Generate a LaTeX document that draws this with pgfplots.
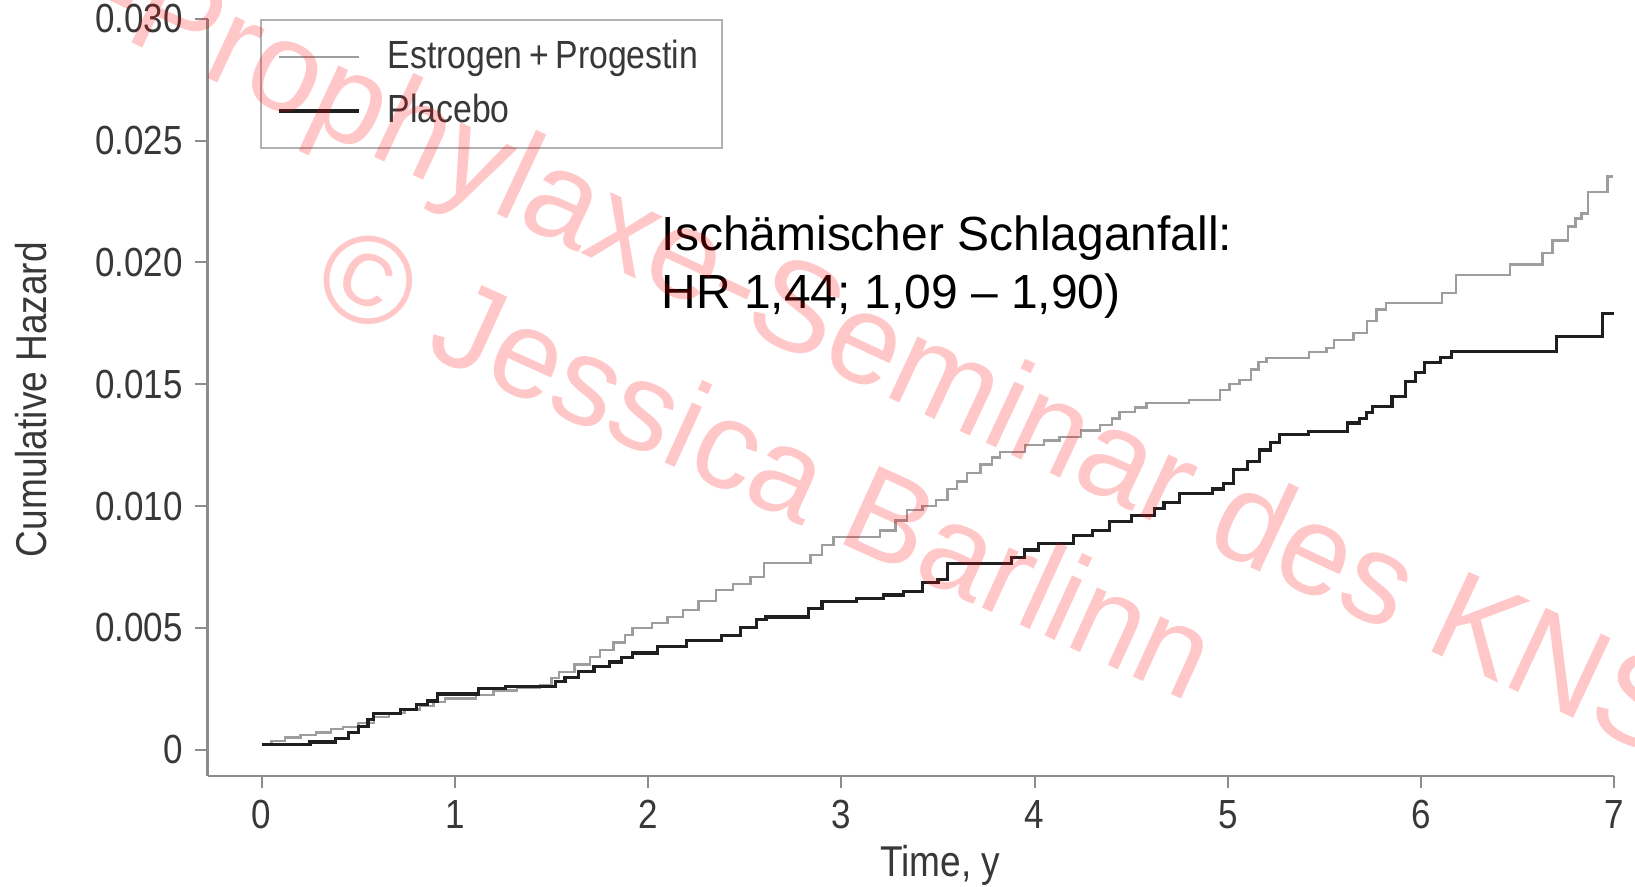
\documentclass[border=0pt]{standalone}
\usepackage{fontspec}
\setmainfont{Liberation Sans}
\newfontfamily\condfont{Liberation Sans}[FakeStretch=0.86]
\usepackage{pgfplots}
\pgfplotsset{compat=1.18}
\definecolor{epgray}{gray}{0.62}
\definecolor{plblack}{gray}{0.12}
\definecolor{axgray}{gray}{0.55}
\definecolor{txtgray}{gray}{0.22}

\pgfplotstableread{
t y
0 0.00020
0.25 0.00032
0.38 0.00045
0.45 0.00070
0.50 0.00095
0.55 0.00125
0.58 0.00150
0.72 0.00165
0.80 0.00184
0.86 0.00200
0.91 0.00229
1.12 0.00250
1.26 0.00261
1.52 0.00280
1.57 0.00295
1.64 0.00320
1.72 0.00340
1.80 0.00360
1.86 0.00380
1.92 0.00397
2.05 0.00424
2.20 0.00450
2.38 0.00470
2.48 0.00500
2.56 0.00533
2.61 0.00545
2.83 0.00580
2.90 0.00608
3.08 0.00620
3.22 0.00635
3.32 0.00650
3.42 0.00685
3.50 0.00700
3.55 0.00766
3.88 0.00790
3.95 0.00820
4.02 0.00848
4.20 0.00880
4.30 0.00900
4.39 0.00935
4.50 0.00963
4.62 0.00990
4.67 0.01013
4.75 0.01053
4.92 0.01070
4.98 0.01094
5.03 0.01149
5.10 0.01182
5.165 0.01230
5.22 0.01260
5.27 0.01293
5.42 0.01306
5.62 0.01341
5.68 0.01360
5.72 0.01383
5.75 0.01408
5.85 0.01449
5.92 0.01510
5.97 0.01550
6.02 0.01588
6.10 0.01610
6.16 0.01633
6.70 0.01695
6.94 0.01789
7.00 0.01789
}\placebo

\pgfplotstableread{
t y
0 0.00020
0.05 0.00035
0.12 0.00050
0.20 0.00060
0.28 0.00070
0.36 0.00085
0.42 0.00094
0.50 0.00110
0.58 0.00134
0.66 0.00150
0.74 0.00165
0.82 0.00180
0.89 0.00197
0.95 0.00210
1.11 0.00225
1.20 0.00244
1.32 0.00255
1.44 0.00265
1.50 0.00295
1.54 0.00320
1.62 0.00350
1.70 0.00380
1.75 0.00409
1.82 0.00440
1.88 0.00470
1.92 0.00500
2.02 0.00520
2.10 0.00545
2.18 0.00574
2.26 0.00610
2.35 0.00655
2.44 0.00680
2.53 0.00710
2.60 0.00766
2.84 0.00800
2.90 0.00840
2.96 0.00873
3.20 0.00900
3.28 0.00940
3.34 0.00985
3.42 0.01000
3.49 0.01025
3.55 0.01070
3.60 0.01100
3.65 0.01136
3.72 0.01170
3.78 0.01200
3.82 0.01222
3.95 0.01250
4.05 0.01270
4.13 0.01284
4.24 0.01310
4.34 0.01333
4.40 0.01360
4.44 0.01387
4.52 0.01405
4.58 0.01423
4.80 0.01436
4.96 0.01477
5.01 0.01500
5.06 0.01518
5.12 0.01560
5.16 0.01592
5.20 0.01608
5.42 0.01633
5.51 0.01648
5.55 0.01682
5.65 0.01710
5.72 0.01760
5.77 0.01806
5.82 0.01834
6.11 0.01875
6.18 0.01949
6.46 0.01991
6.63 0.02038
6.68 0.02090
6.76 0.02147
6.80 0.02180
6.83 0.02200
6.865 0.02290
6.965 0.02352
6.995 0.02352
}\estprog

\begin{document}
\begin{tikzpicture}
\begin{axis}[
  scale only axis,
  width=404.7pt, height=217.8pt,
  xmin=-0.2806, xmax=7, ymin=-0.00107, ymax=0.030,
  axis lines=left,
  axis line style={-, draw=axgray, line width=0.7pt},
  xtick={0,1,2,3,4,5,6,7},
  xticklabels={0,1,2,3,4,5,6,7},
  ytick={0,0.005,0.01,0.015,0.02,0.025,0.03},
  yticklabels={0,0.005,0.010,0.015,0.020,0.025,0.030},
  tick align=outside,
  major tick length=3.6pt,
  tick style={draw=axgray, line width=0.6pt},
  ticklabel style={font=\condfont\fontsize{11.7}{13}\selectfont, text=txtgray},
  xlabel={Time, y},
  ylabel={Cumulative Hazard},
  label style={font=\condfont\fontsize{12.4}{14}\selectfont, text=txtgray},
  xlabel style={at={(axis description cs:0.521,-0.1185)}, anchor=center},
  ylabel style={at={(axis description cs:-0.1253,0.497)}, anchor=center},
  clip=false,
  legend cell align=left,
  legend image code/.code={\draw[#1] (0pt,0pt) -- (22.8pt,0pt);},
  legend style={at={(axis description cs:0.0371,1)}, anchor=north west,
    draw=gray!60, line width=0.6pt, fill=white,
    font=\condfont\fontsize{11.3}{13}\selectfont, text=txtgray,
    inner xsep=4.9pt, inner ysep=2.85pt, row sep=0pt, column sep=5.9pt,
    nodes={inner sep=2pt, minimum height=15.6pt}},
]
\addplot[const plot, draw=epgray, line width=0.7pt] table[x=t, y=y] {\estprog};
\addlegendentry{Estrogen\,+\,Progestin}
\addplot[const plot, draw=plblack, line width=0.9pt] table[x=t, y=y] {\placebo};
\addlegendentry{Placebo}

\node[anchor=base west, inner sep=0pt, font=\fontsize{13.8}{16}\selectfont] at (axis cs:2.067,0.0205) {Ischämischer Schlaganfall:};
\node[anchor=base west, inner sep=0pt, font=\fontsize{13.8}{16}\selectfont] at (axis cs:2.067,0.0181) {HR 1,44; 1,09 – 1,90)};
\end{axis}

\begin{scope}
\clip (-59.7pt,-31.8pt) rectangle (410.7pt,223.2pt);
\node[rotate=-25.1, anchor=base east, inner sep=0pt, text=red, text opacity=0.22,
  font=\fontsize{36.8}{40}\selectfont] at (418.3pt,4.64pt) {-Prophylaxe-Seminar des KNS};
\node[rotate=-24.5, anchor=base west, inner sep=0pt, text=red, text opacity=0.22,
  font=\fontsize{36}{40}\selectfont] at (28.8pt,136.8pt) {© Jessica Barlinn};
\end{scope}

\pgfresetboundingbox
\useasboundingbox (-59.7pt,-31.8pt) rectangle (410.7pt,223.2pt);
\end{tikzpicture}
\end{document}
